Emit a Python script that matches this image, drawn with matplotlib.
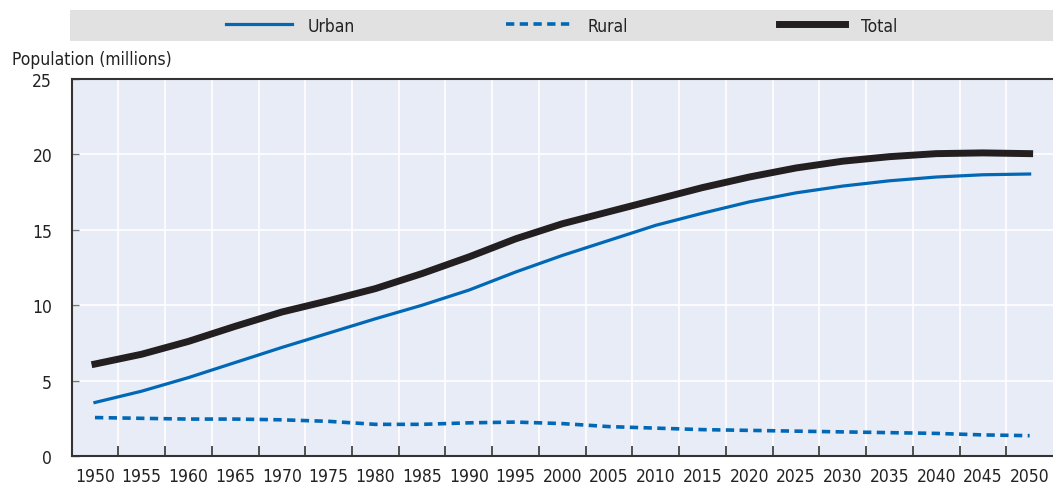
import matplotlib
matplotlib.use("Agg")
import matplotlib.pyplot as plt
from matplotlib.patches import Rectangle
import numpy as np

plt.rcParams['font.family'] = ['DejaVu Sans']
plt.rcParams['font.stretch'] = 'condensed'

years = [1950, 1955, 1960, 1965, 1970, 1975, 1980, 1985, 1990, 1995, 2000,
         2005, 2010, 2015, 2020, 2025, 2030, 2035, 2040, 2045, 2050]
urban = [3.55, 4.3, 5.2, 6.2, 7.2, 8.15, 9.1, 10.0, 11.0, 12.2, 13.3,
         14.3, 15.3, 16.1, 16.85, 17.45, 17.9, 18.25, 18.5, 18.65, 18.7]
rural = [2.55, 2.5, 2.45, 2.45, 2.4, 2.3, 2.1, 2.1, 2.2, 2.25, 2.15,
         1.95, 1.85, 1.75, 1.7, 1.65, 1.6, 1.55, 1.5, 1.4, 1.35]
total = [6.1, 6.75, 7.6, 8.6, 9.55, 10.3, 11.1, 12.1, 13.2, 14.4, 15.4,
         16.2, 17.0, 17.8, 18.5, 19.1, 19.55, 19.85, 20.05, 20.1, 20.05]

blue = '#0068b5'
dark = '#231f20'
fs = 12.5

fig = plt.figure(figsize=(10.53, 4.89), dpi=100)
ax = fig.add_axes([0.068, 0.0654, 0.932, 0.771])
ax.set_facecolor('#e8ecf6')

x = np.arange(len(years))
l1, = ax.plot(x, urban, color=blue, lw=2.3, label='Urban')
l2, = ax.plot(x, rural, color=blue, lw=2.6, ls=(0, (2.3, 1.5)), label='Rural')
l3, = ax.plot(x, total, color=dark, lw=5, label='Total')

ax.set_xlim(-0.5, len(years) - 0.5)
ax.set_ylim(0, 25)
ax.set_xticks(x)
ax.set_xticklabels([str(y) for y in years], fontsize=fs, color='#222222')
ax.set_xticks(np.arange(0.5, len(years) - 1, 1), minor=True)
ax.tick_params(axis='x', which='major', length=0, pad=8)
ax.tick_params(axis='x', which='minor', direction='in', length=7, width=1.2, color='#333333')
ax.set_yticks([0, 5, 10, 15, 20, 25])
ax.tick_params(axis='y', direction='in', length=5, width=1, color='#777777',
               labelsize=fs, labelcolor='#222222', pad=14)
ax.grid(True, which='minor', axis='x', color='white', lw=1.2)
ax.grid(True, which='major', axis='y', color='white', lw=1.2)
ax.set_axisbelow(True)
for s in ['left', 'top', 'bottom']:
    ax.spines[s].set_color('#333333')
    ax.spines[s].set_linewidth(1.5)
ax.spines['right'].set_visible(False)

fig.text(12 / 1053, 1 - 60 / 489, 'Population (millions)', fontsize=fs,
         color='#222222', ha='left', va='center')

fig.patches.append(Rectangle((70 / 1053, 1 - 42 / 489), 983 / 1053, 31 / 489,
                             transform=fig.transFigure, facecolor='#e1e1e1',
                             edgecolor='none', zorder=0))
fig.legend(handles=[l1, l2, l3], loc='center',
           bbox_to_anchor=(561.5 / 1053, 1 - 26.5 / 489), ncol=3, frameon=False,
           fontsize=fs, handlelength=3.8, handletextpad=0.9, columnspacing=8.7,
           labelcolor='#222222')

fig.savefig('out.png', dpi=100)
